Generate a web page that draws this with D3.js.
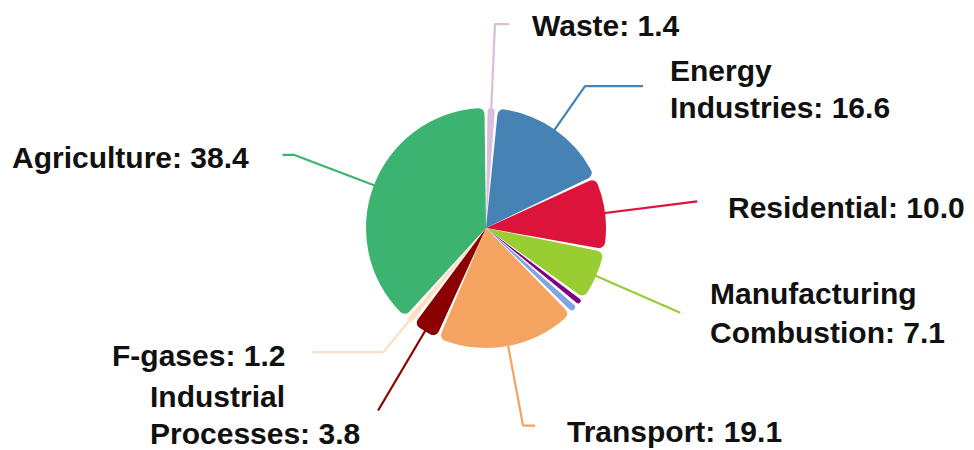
<!DOCTYPE html>
<html><head><meta charset="utf-8">
<script src="https://cdn.jsdelivr.net/npm/d3@7"></script>
<style>body{margin:0;background:#fff}svg{display:block}</style>
</head><body>
<svg id="c" width="974" height="450"></svg>
<script>
// Data
const categories = ["Waste", "Energy Industries", "Residential", "Manufacturing Combustion", "Commercial Services", "Public Services", "Transport", "Industrial Processes", "F-gases", "Agriculture"];
const values = [1.4, 16.6, 10.0, 7.1, 1.1, 1.3, 19.1, 3.8, 1.2, 38.4];
const colors = ["#d9bfdc", "#4682b4", "#dc143c", "#9acd32", "#800080", "#7fa6e3", "#f4a460", "#8b0000", "#ffe0c4", "#3cb371"];
const labelLines = [["Waste: 1.4"], ["Energy", "Industries: 16.6"], ["Residential: 10.0"], ["Manufacturing", "Combustion: 7.1"], null, null, ["Transport: 19.1"], ["Industrial", "Processes: 3.8"], ["F-gases: 1.2"], ["Agriculture: 38.4"]];

// Layout (not data)
const cx = 486, cy = 228, R = 120;
const layout = {
  "Waste": {er: 204, h: 14, tx: 532, ty: [36]},
  "Energy Industries": {er: 173, h: 58, tx: 670, ty: [81, 118]},
  "Residential": {er: 213, h: 0, tx: 728, ty: [218]},
  "Manufacturing Combustion": {er: 212, h: 0, tx: 710, ty: [304, 343]},
  "Transport": {er: 201, h: 12, tx: 567, ty: [442]},
  "Industrial Processes": {er: 212, h: 0, tx: 150, ty: [407, 444]},
  "F-gases": {er: 161, h: -71, tx: 112, ty: [366]},
  "Agriculture": {er: 205, h: -12, tx: 12, ty: [168]}
};

const svg = d3.select("#c");
const g = svg.append("g").attr("transform", `translate(${cx},${cy})`);

const data = categories.map((c, i) => ({cat: c, value: values[i], color: colors[i], lines: labelLines[i]}));
const pie = d3.pie().sort(null).value(d => d.value).startAngle(0).endAngle(2 * Math.PI);
const arcs = pie(data);
const arc = d3.arc().innerRadius(0).outerRadius(R).cornerRadius(6).padAngle(0.026).padRadius(R);

// leader lines (under slices)
const lineG = g.append("g");
arcs.forEach(a => {
  const L = layout[a.data.cat];
  if (!L) return;
  const m = (a.startAngle + a.endAngle) / 2;
  const p0 = [Math.sin(m) * R * 0.6, -Math.cos(m) * R * 0.6];
  const p1 = [Math.sin(m) * L.er, -Math.cos(m) * L.er];
  const p2 = [p1[0] + L.h, p1[1]];
  lineG.append("path")
    .attr("d", d3.line()([p0, p1, p2]))
    .attr("fill", "none")
    .attr("stroke", a.data.color)
    .attr("stroke-width", 2.2)
    .attr("stroke-linejoin", "round");
});

g.append("g").selectAll("path").data(arcs).join("path")
  .attr("d", arc)
  .attr("fill", d => d.data.color);

// labels
const textG = svg.append("g")
  .attr("font-family", "Liberation Sans, Arial, sans-serif")
  .attr("font-weight", "bold")
  .attr("font-size", 30)
  .attr("fill", "#111");
data.forEach(d => {
  const L = layout[d.cat];
  if (!L || !d.lines) return;
  d.lines.forEach((t, k) => {
    textG.append("text").attr("x", L.tx).attr("y", L.ty[k]).text(t);
  });
});
</script>
</body></html>
